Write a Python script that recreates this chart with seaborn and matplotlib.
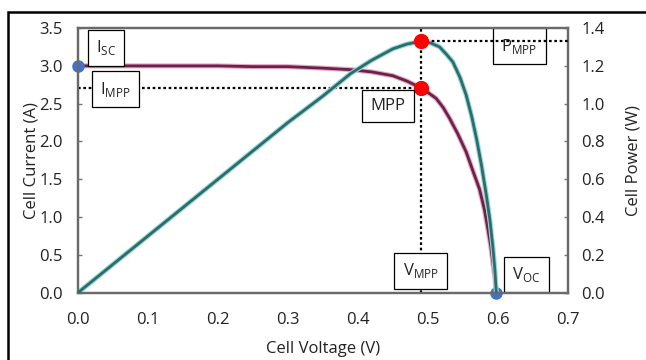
import matplotlib
matplotlib.use('Agg')
import matplotlib.pyplot as plt
import seaborn as sns

sns.set_style('white')
plt.rcParams['font.family'] = ['Open Sans', 'DejaVu Sans']
plt.rcParams['mathtext.fontset'] = 'custom'
plt.rcParams['mathtext.rm'] = 'Open Sans'

# I-V curve (left axis, A)
v_current = [0.0, 0.05, 0.10, 0.15, 0.20, 0.25, 0.30, 0.35, 0.39, 0.42, 0.45, 0.47, 0.49,
             0.50, 0.512, 0.522, 0.531, 0.543, 0.555, 0.565, 0.574, 0.581, 0.586, 0.59,
             0.593, 0.596, 0.598]
current = [3.0, 3.0, 3.0, 3.0, 3.0, 2.99, 2.99, 2.97, 2.95, 2.92, 2.87, 2.80, 2.71,
           2.65, 2.57, 2.45, 2.31, 2.10, 1.86, 1.60, 1.37, 1.10, 0.84, 0.62,
           0.40, 0.20, 0.0]

# P-V curve (right axis, W)
v_power = [0.0, 0.10, 0.20, 0.30, 0.35, 0.39, 0.42, 0.45, 0.47, 0.49, 0.505, 0.517, 0.527,
           0.536, 0.546, 0.555, 0.563, 0.57, 0.577, 0.584, 0.589, 0.593, 0.596, 0.598]
power = [0.0, 0.30, 0.60, 0.90, 1.04, 1.16, 1.23, 1.29, 1.315, 1.33, 1.32, 1.30, 1.26,
         1.22, 1.14, 1.045, 0.93, 0.81, 0.67, 0.51, 0.38, 0.245, 0.12, 0.0]

v_mpp, i_mpp, p_mpp = 0.49, 2.71, 1.33
i_sc, v_oc = 3.0, 0.598

x_ticks = [0.0, 0.1, 0.2, 0.3, 0.4, 0.5, 0.6, 0.7]
y_ticks = [0.0, 0.5, 1.0, 1.5, 2.0, 2.5, 3.0, 3.5]
p_ticks = [0.0, 0.2, 0.4, 0.6, 0.8, 1.0, 1.2, 1.4]

fig = plt.figure(figsize=(6.46, 3.6), dpi=100)
ax = fig.add_axes([0.1207, 0.187, 0.758, 0.735])
ax2 = ax.twinx()

# current curve with soft halo
sns.lineplot(x=v_current, y=current, ax=ax, sort=False, color='#e6a6c4', lw=3.6, zorder=2)
sns.lineplot(x=v_current, y=current, ax=ax, sort=False, color='#6a2348', lw=2.0, zorder=3)
# power curve with soft halo
sns.lineplot(x=v_power, y=power, ax=ax2, sort=False, color='#9ad6d6', lw=3.6, zorder=2)
sns.lineplot(x=v_power, y=power, ax=ax2, sort=False, color='#2b6d6d', lw=2.0, zorder=3)

# dotted guide lines
ax.plot([0, v_mpp], [i_mpp, i_mpp], ls=(0, (1.2, 1.2)), color='black', lw=1.6, zorder=4)
ax.plot([v_mpp, v_mpp], [0, 3.5], ls=(0, (1.2, 1.2)), color='black', lw=1.6, zorder=4)
ax2.plot([v_mpp, 0.7], [p_mpp, p_mpp], ls=(0, (1.2, 1.2)), color='black', lw=1.6, zorder=4)

# marker points
ax.plot([0, v_oc], [i_sc, 0], 'o', color='#4472c4', ms=8, clip_on=False, zorder=6)
ax.plot([v_mpp], [i_mpp], 'o', color='#ff0000', ms=10, clip_on=False, zorder=6)
ax2.plot([v_mpp], [p_mpp], 'o', color='#ff0000', ms=10, clip_on=False, zorder=6)

box = dict(boxstyle='square,pad=0.5', fc='white', ec='black', lw=0.9)
labels = [
    (0.040, 3.24, r'I$_{\mathregular{SC}}$'),
    (0.054, 2.69, r'I$_{\mathregular{MPP}}$'),
    (0.631, 3.26, r'P$_{\mathregular{MPP}}$'),
    (0.443, 2.47, 'MPP'),
    (0.490, 0.29, r'V$_{\mathregular{MPP}}$'),
    (0.641, 0.24, r'V$_{\mathregular{OC}}$'),
]
for x, y, t in labels:
    ax.text(x, y, t, ha='center', va='center', fontsize=12, color='#222222',
            bbox=box, zorder=8)

ax.set_xlim(0, 0.7)
ax.set_ylim(0, 3.5)
ax2.set_ylim(0, 1.4)
ax.set_xticks(x_ticks)
ax.set_xticklabels([f'{t:.1f}' for t in x_ticks])
ax.set_yticks(y_ticks)
ax.set_yticklabels([f'{t:.1f}' for t in y_ticks])
ax2.set_yticks(p_ticks)
ax2.set_yticklabels([f'{t:.1f}' for t in p_ticks])

for a in (ax, ax2):
    a.tick_params(direction='in', length=3, width=1, color='#777777',
                  labelsize=12, labelcolor='#222222')
    for s in a.spines.values():
        s.set_color('#6a6a6a')
        s.set_linewidth(1.6)
ax.tick_params(axis='x', pad=14)
ax.tick_params(axis='y', pad=11)
ax2.tick_params(axis='y', pad=10)

ax.set_xlabel('Cell Voltage (V)', fontsize=12, color='#222222', labelpad=9)
ax.set_ylabel('Cell Current (A)', fontsize=12, color='#222222', labelpad=0)
ax2.set_ylabel('Cell Power (W)', fontsize=12, color='#222222', labelpad=15)

# outer frame
fig.add_artist(plt.Rectangle((8 / 646, -0.2), 1.2, 1.2 - 12 / 360, transform=fig.transFigure,
                             fill=False, ec='black', lw=1.8))

fig.savefig('out.png', dpi=100)
